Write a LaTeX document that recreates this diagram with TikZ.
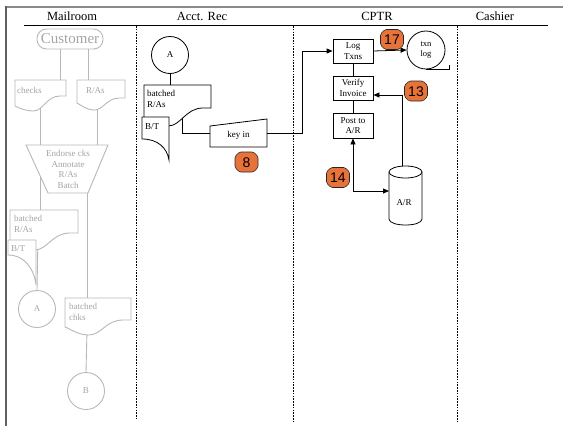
\documentclass[tikz,border=0pt]{standalone}
\usepackage{fontspec}
\setmainfont{Liberation Serif}
\newfontfamily\badgefont{Liberation Sans}
\usetikzlibrary{arrows.meta,calc}

\definecolor{faded}{HTML}{B8B8B8}
\definecolor{fadedtext}{HTML}{A4A4A4}
\definecolor{badgefill}{HTML}{E8733A}
\definecolor{frameleft}{HTML}{606060}
\definecolor{frametop}{HTML}{8A8A8A}

\tikzset{
  lane/.style={draw=black, line width=0.7pt, dash pattern=on 1.6pt off 1.2pt},
  flow/.style={draw=black, line width=0.8pt},
  arrowflow/.style={flow, -{Triangle[length=6pt,width=5pt]}},
  ghost/.style={draw=faded, line width=0.9pt},
  ghostfill/.style={ghost, fill=white},
  solidfill/.style={flow, fill=white},
  lbl/.style={font=\fontsize{9}{10.7}\selectfont, inner sep=0pt},
  ghostlbl/.style={lbl, text=fadedtext},
  head/.style={font=\fontsize{12.5}{14}\selectfont, inner sep=0pt},
  procbox/.style={flow, fill=white, minimum width=40pt, minimum height=24pt,
    inner sep=0pt, align=center, font=\fontsize{9}{10.7}\selectfont},
  connector/.style={circle, inner sep=0pt, minimum size=37pt, font=\fontsize{9}{10}\selectfont},
  badgeshape/.style={fill=badgefill, draw=black!85, line width=0.6pt, rounded corners=1.5pt},
  badgetext/.style={inner sep=0pt, font=\badgefont\fontsize{14}{14}\selectfont},
}

% document symbol with a wavy lower edge:
% #1 style, #2 left, #3 top, #4 right, #5 right-bottom, #6 left-bottom, #7 trough
\newcommand\docpath[7]{%
  \draw[#1] (#2,#3) -- (#4,#3) -- (#4,#5)
    -- ({#4-0.12*(#4-#2)},#5)
    .. controls ({#2+0.62*(#4-#2)},#5) and ({#2+0.55*(#4-#2)},#7) .. ({#2+0.36*(#4-#2)},#7)
    .. controls ({#2+0.2*(#4-#2)},#7) and ({#2+0.08*(#4-#2)},{#6+2}) .. (#2,#6) -- cycle;}

% numbered octagonal marker: #1 name, #2 x, #3 y, #4 number
\newcommand\stepmarker[4]{%
  \draw[badgeshape] ({#2-11.5},{#3-5.5}) -- ({#2-7},{#3-10}) -- ({#2+7},{#3-10})
    -- ({#2+11.5},{#3-5.5}) -- ({#2+11.5},{#3+5.5}) -- ({#2+7},{#3+10})
    -- ({#2-7},{#3+10}) -- ({#2-11.5},{#3+5.5}) -- cycle;
  \node[badgetext] (#1) at (#2,{#3+0.5}) {#4};}

\begin{document}
\begin{tikzpicture}[x=1pt, y=-1pt]
\useasboundingbox (0,0) rectangle (563,426);

% frame and lane headings
\draw[frametop, line width=1.4pt] (5.3,7) -- (563,7);
\draw[frameleft, line width=1.4pt] (6,6.3) -- (6,426);
\draw[line width=0.9pt] (24,25) -- (548,25);
\node[head] (hMail) at (72,16.5) {Mailroom};
\node[head] (hAcct) at (202,16.5) {Acct. Rec};
\node[head] (hCptr) at (377,16.5) {CPTR};
\node[head] (hCash) at (495,16.5) {Cashier};
\draw[lane] (136,26) -- (136,419);
\draw[lane] (293,26) -- (293,422);
\draw[lane] (457,26) -- (457,422);

% ---------------- Mailroom (faded) ----------------
% connection points on the document symbols
\coordinate (chkIn) at (60,80);
\coordinate (rasIn) at (88,80);
\coordinate (chkOut) at (40,104);
\coordinate (rasOut) at (97,102);
\coordinate (manIn) at (97,145);
\coordinate (batIn) at (40,210);
\coordinate (manOut) at (87,190);
\coordinate (chkBatIn) at (87,298);
\coordinate (btOut) at (38,236);
\coordinate (chkBatOut) at (87,330);

\node[ghost, rounded corners=9.5pt, minimum width=66pt, minimum height=20pt,
  inner sep=0pt, text=fadedtext, font=\fontsize{15}{15}\selectfont] (cust) at (70,39) {Customer};
\node[connector, ghost, text=fadedtext] (mA) at (37,309) {A};
\node[connector, ghost, text=fadedtext] (mB) at (86,391) {B};

% flow lines (drawn first, shapes cover their ends)
\draw[ghost] (cust.south -| chkIn) -- (chkIn);
\draw[ghost] (cust.south -| rasIn) -- (rasIn);
\draw[ghost] (chkOut) -- (batIn);
\draw[ghost] (rasOut) -- (manIn);
\draw[ghost] (manOut) -- (chkBatIn);
\draw[ghost] (btOut) -- (mA.north);
\draw[ghost] (chkBatOut) -- (mB.north);

\docpath{ghostfill}{15}{80}{66}{96}{106}{111}
\docpath{ghostfill}{77}{80}{125}{98}{103}{110}
\node[ghostlbl, anchor=north west] (chkLbl) at (17,87) {checks};
\node[ghostlbl, anchor=north west] (rasLbl) at (86,87) {R/As};

% manual operation
\draw[ghostfill] (26,145) -- (108,145) -- (88,193) -- (48,193) -- cycle;
\node[ghostlbl, align=center] (manLbl) at (68,169.5) {Endorse cks\\Annotate\\R/As\\Batch};

\docpath{ghostfill}{10}{210}{78}{233}{248}{250}
\node[ghostlbl, anchor=north west, align=left] (mBatLbl) at (14,215) {batched\\R/As};
\draw[ghostfill] (8,240) -- (36,240) -- (36,285) .. controls (34,268) and (24,255) .. (8,255) -- cycle;
\node[ghostlbl, anchor=north west] (mBtLbl) at (11,245) {B/T};

\docpath{ghostfill}{65}{298}{131}{320}{327}{335}
\node[ghostlbl, anchor=north west, align=left] (mChkLbl) at (69,303) {batched\\chks};

% ---------------- Acct. Rec ----------------
\node[connector, flow, fill=white] (aA) at (170,55) {A};
\coordinate (aBatIn) at (170,85);
\coordinate (aBatOut) at (182,114);
\coordinate (keyW) at (210,133);
\coordinate (keyE) at (267,133);
\coordinate (turnUp) at (302,133);

\draw[flow] (aA.south) -- (aBatIn);
\draw[flow] (aBatOut) |- (keyW);

\docpath{solidfill}{144}{85}{211}{108}{125}{126}
\node[lbl, anchor=north west, align=left] (aBatLbl) at (147,90) {batched\\R/As};
\draw[solidfill] (142,117) -- (169,117) -- (169,160) .. controls (167,148) and (158,139) .. (142,139) -- cycle;
\node[lbl, anchor=north west] (aBtLbl) at (145,123) {B/T};

% manual input
\draw[solidfill] (210,126) -- (267,119) -- (267,147) -- (210,147) -- cycle;
\node[lbl] (keyin) at (238.5,135.5) {key in};
\stepmarker{b8}{246.5}{162}{8}

% ---------------- CPTR ----------------
\node[procbox] (log) at (353,51) {Log\\Txns};
\node[procbox] (verify) at (353,88) {Verify\\Invoice};
\node[procbox, minimum height=25pt] (post) at (353,125.5) {Post to\\A/R};
\node[circle, flow, inner sep=0pt, minimum size=38pt, align=center,
  font=\fontsize{8.5}{10.5}\selectfont] (txn) at (426,50) {txn\\log};
\draw[flow] (txn.south) -- ++(23,0) -- ++(0,-4);

\draw[arrowflow] (keyE) -- (turnUp) |- (log.west);
\draw[arrowflow] (log.east) -- (txn.west);
\draw[flow] (log.south) -- (verify.north);
\draw[flow] (verify.south) -- (post.north);

% disk storage
\coordinate (arN) at (402,166);
\coordinate (arW) at (389,191);
\draw[solidfill] (389,172) -- (389,219) .. controls (389,227) and (422,227) .. (422,219) -- (422,172);
\draw[solidfill] (405.5,172) ellipse [x radius=16.5pt, y radius=6pt];
\node[lbl] (arLbl) at (404,203) {A/R};

\draw[arrowflow] (arN) |- ($(verify.east)+(0,7)$);
\draw[flow, {Triangle[length=6pt,width=5pt]}-{Triangle[length=6pt,width=5pt]}] (post.south) |- (arW);

\stepmarker{b17}{392}{39.5}{17}
\stepmarker{b13}{416}{91}{13}
\stepmarker{b14}{338}{177.5}{14}
\end{tikzpicture}
\end{document}
